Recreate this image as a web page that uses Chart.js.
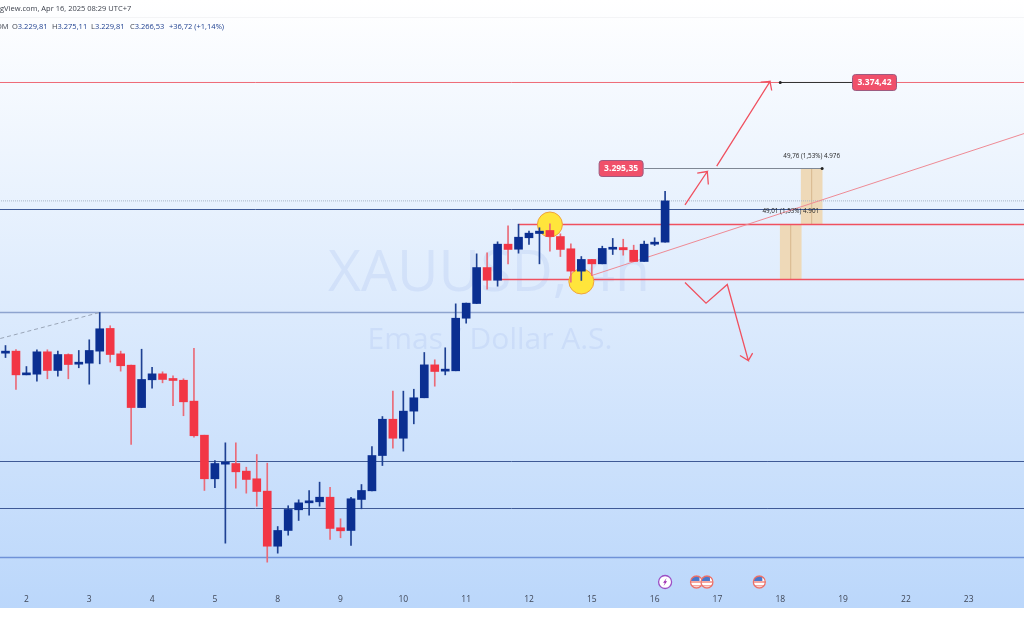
<!DOCTYPE html>
<html>
<head>
<meta charset="utf-8">
<title>XAUUSD 4h</title>
<script src="https://cdn.jsdelivr.net/npm/chart.js@4"></script>
<style>
  html, body { margin: 0; padding: 0; background: #fff; }
  canvas { display: block; }
</style>
</head>
<body>
<canvas id="chart" width="1024" height="631"></canvas>
<script>
// --- CANDLES (4h bars, prices) ---
const opens = [3131.0, 3132.8, 3111.7, 3112.3, 3132.2, 3115.6, 3129.8, 3121.2, 3122.1, 3132.8, 3153.0, 3130.4, 3120.3, 3082.6, 3107.3, 3112.6, 3108.2, 3106.9, 3088.3, 3058.0, 3019.2, 3032.2, 3032.8, 3026.0, 3019.2, 3008.2, 2959.2, 2973.2, 2991.6, 2997.8, 2998.7, 3002.8, 2975.6, 2973.2, 3000.8, 3008.5, 3039.9, 3072.2, 3055.3, 3079.4, 3091.3, 3120.6, 3115.0, 3115.3, 3162.1, 3175.2, 3207.2, 3195.9, 3228.0, 3223.5, 3233.7, 3237.5, 3240.2, 3234.8, 3223.9, 3204.0, 3214.4, 3210.5, 3223.5, 3225.0, 3222.6, 3212.6, 3228.0, 3229.81];
const highs = [3137.8, 3134.3, 3119.1, 3134.0, 3134.0, 3132.8, 3130.4, 3133.4, 3142.9, 3167.2, 3155.4, 3132.8, 3120.3, 3134.5, 3118.5, 3114.4, 3110.9, 3108.2, 3135.2, 3058.0, 3035.5, 3051.2, 3051.2, 3029.5, 3040.8, 3033.1, 2976.7, 2995.2, 3000.5, 3008.8, 3016.2, 3011.7, 2983.6, 3002.8, 3014.1, 3047.9, 3074.6, 3097.2, 3097.2, 3098.9, 3131.6, 3125.1, 3135.8, 3174.9, 3175.5, 3219.4, 3220.3, 3230.1, 3244.4, 3245.8, 3239.6, 3242.6, 3246.1, 3237.2, 3228.3, 3217.0, 3214.4, 3226.2, 3233.1, 3232.4, 3227.1, 3230.7, 3233.7, 3275.11];
const lows = [3127.1, 3098.7, 3111.7, 3106.1, 3108.2, 3110.5, 3108.2, 3118.0, 3103.4, 3121.5, 3123.0, 3115.0, 3049.7, 3082.6, 3099.8, 3104.6, 3084.2, 3075.3, 3056.2, 3008.8, 3011.2, 2961.9, 3010.8, 3006.4, 2994.8, 2945.0, 2953.0, 2969.0, 2982.1, 2986.8, 2994.8, 2965.2, 2966.7, 2959.8, 2992.5, 3008.5, 3031.0, 3046.4, 3043.8, 3068.1, 3091.3, 3101.6, 3111.7, 3115.3, 3157.7, 3175.2, 3187.9, 3190.6, 3210.5, 3220.0, 3227.7, 3210.5, 3221.8, 3217.0, 3194.2, 3195.7, 3200.1, 3210.5, 3218.8, 3218.2, 3212.6, 3212.6, 3226.8, 3229.81];
const closes = [3132.8, 3111.7, 3112.9, 3132.2, 3115.6, 3129.8, 3120.9, 3122.7, 3133.4, 3152.7, 3129.8, 3119.8, 3082.6, 3107.6, 3112.6, 3107.6, 3106.7, 3087.7, 3057.5, 3019.2, 3032.8, 3032.8, 3025.4, 3018.6, 3007.9, 2959.2, 2973.2, 2991.9, 2997.8, 2999.0, 3002.8, 2975.0, 2972.9, 3001.4, 3008.8, 3039.9, 3072.2, 3055.3, 3079.4, 3091.3, 3120.6, 3114.7, 3115.6, 3162.1, 3175.5, 3207.2, 3195.9, 3228.0, 3223.3, 3234.2, 3237.8, 3239.6, 3234.8, 3223.3, 3204.0, 3214.4, 3210.5, 3224.2, 3225.0, 3223.0, 3212.6, 3228.0, 3229.8, 3266.53];

// --- TIME AXIS ---
const dayTickBars = [2, 8, 14, 20, 26, 32, 38, 44, 50, 56, 62, 68, 74, 80, 86, 92];
const dayTickLabels = ['2', '3', '4', '5', '8', '9', '10', '11', '12', '15', '16', '17', '18', '19', '22', '23'];

// --- HORIZONTAL LEVELS ---
const targetLevel = 3371.9;
const lastPrice = 3266.53;
const navyLevels = [3258.86, 3034.58, 2992.75];
const supportLevel = 3167.19;
const floorLevel = 2949.14;
const zoneTop = 3245.51;
const zoneBottom = 3196.56;
const measureTop = 3295.35;

// --- DRAWINGS (bar number / price pairs) ---
const dashedX = [-0.5, 9];
const dashedY = [3144.05, 3167.2];
const trendX = [56, 97.3];
const trendY = [3200.12, 3326.5];
const arrowShortX = [64.9, 67.03, 66.07, 67.03, 67.13];
const arrowShortY = [3263.04, 3292.68, 3291.17, 3292.68, 3281.11];
const arrowLongX = [67.93, 73.02, 72.13, 73.02, 73.18];
const arrowLongY = [3297.4, 3372.78, 3372.16, 3372.78, 3364.77];
const arrowDownX = [64.9, 66.91, 68.94, 70.95, 70.15, 70.95, 71.36];
const arrowDownY = [3193.89, 3175.47, 3192.11, 3124.47, 3128.92, 3124.47, 3130.97];
const circleBars = [52, 55];
const circlePrices = [3245.51, 3194.8];
const measureBars = [75, 77];
const measureLow = [3196.56, 3245.51];
const measureHigh = [3245.51, 3295.35];
const measureTexts = ['49,01 (1,53%) 4.901', '49,76 (1,53%) 4.976'];
const newsBars = [63, 66, 67, 72];
const newsKinds = ['bolt', 'flag', 'flag', 'flag'];

// --- COLORS ---
const BLUE = '#0b2f91';
const RED = '#f23645';
const LINE_RED = '#f0505f';
const TAN = '#eed9b8';

const upDown = (up, down) => closes.map((c, i) => (c >= opens[i] ? up : down));
const toPoints = (xs, ys) => xs.map((x, i) => ({ x, y: ys[i] }));
const flat = (x0, x1, y) => [{ x: x0, y }, { x: x1, y }];
const LAST_X = 97.3;

function lineSet(data, color, width, order, dash) {
  return {
    type: 'line',
    data,
    borderColor: color,
    borderWidth: width,
    borderDash: dash || [],
    pointRadius: 0,
    tension: 0,
    fill: false,
    order
  };
}

const datasets = [
  // candles go on top of everything
  {
    data: opens.map((o, i) => ({ x: i, y: [o, closes[i]] })),
    backgroundColor: upDown(BLUE, RED),
    barThickness: 8,
    minBarLength: 2,
    grouped: false,
    order: 1
  },
  {
    data: lows.map((l, i) => ({ x: i, y: [l, highs[i]] })),
    backgroundColor: upDown('#1e4193', '#ea6b78'),
    barThickness: 1,
    grouped: false,
    order: 2
  },
  // yellow circles
  {
    type: 'line',
    data: toPoints(circleBars, circlePrices),
    showLine: false,
    pointRadius: 12.5,
    pointBackgroundColor: '#ffe53b',
    pointBorderColor: '#f0a23c',
    pointBorderWidth: 1,
    order: 3
  },
  // arrows and trend
  lineSet(toPoints(trendX, trendY), '#ee8a94', 1, 4),
  lineSet(toPoints(arrowShortX, arrowShortY), LINE_RED, 1.3, 4),
  lineSet(toPoints(arrowLongX, arrowLongY), LINE_RED, 1.3, 4),
  lineSet(toPoints(arrowDownX, arrowDownY), LINE_RED, 1.3, 4),
  lineSet(toPoints(dashedX, dashedY), '#9aa6b8', 1, 4, [4, 3]),
  // levels
  lineSet(flat(-1, LAST_X, targetLevel), '#ee6a76', 1, 5),
  lineSet(flat(74, 81, targetLevel), '#333333', 1, 4.5),
  lineSet(flat(61, 78, measureTop), '#7f8794', 1, 4.5),
  lineSet(flat(-1, LAST_X, lastPrice), '#a9b4c4', 1, 5, [1, 1]),
  lineSet(flat(-1, LAST_X, navyLevels[0]), '#3f5a96', 1, 5),
  lineSet(flat(-1, LAST_X, navyLevels[1]), '#3f5a96', 1, 5),
  lineSet(flat(-1, LAST_X, navyLevels[2]), '#3f5a96', 1, 5),
  lineSet(flat(-1, LAST_X, supportLevel), '#8ea4cf', 1.6, 5),
  lineSet(flat(-1, LAST_X, floorLevel), '#6f92d8', 1.4, 5),
  lineSet(flat(49, LAST_X, zoneTop), LINE_RED, 1.6, 4.2),
  lineSet(flat(47, LAST_X, zoneBottom), LINE_RED, 1.6, 4.2),
  // measure handles
  {
    type: 'line',
    data: [{ x: 74, y: targetLevel }, { x: 78, y: measureTop }],
    showLine: false,
    pointRadius: 1.5,
    pointBackgroundColor: '#222222',
    pointBorderWidth: 0,
    order: 4.1
  },
  // measure boxes
  lineSet([{ x: measureBars[0], y: measureLow[0] }, { x: measureBars[0], y: measureHigh[0] }], '#d8b78e', 1, 6),
  lineSet([{ x: measureBars[1], y: measureLow[1] }, { x: measureBars[1], y: measureHigh[1] }], '#d8b78e', 1, 6),
  {
    data: measureBars.map((b, i) => ({ x: b, y: [measureLow[i], measureHigh[i]] })),
    backgroundColor: TAN,
    barThickness: 21,
    grouped: false,
    order: 7
  }
];

// Paints the page background, watermark and header before the axes and marks
const backdrop = {
  id: 'backdrop',
  beforeDraw(chart) {
    const ctx = chart.ctx;
    ctx.save();
    const grad = ctx.createLinearGradient(0, 0, 0, 608);
    grad.addColorStop(0, '#ffffff');
    grad.addColorStop(1, '#bbd7fb');
    ctx.fillStyle = grad;
    ctx.fillRect(0, 0, 1024, 608);

    ctx.strokeStyle = '#f3f4f6';
    ctx.beginPath();
    ctx.moveTo(0, 17.5);
    ctx.lineTo(1024, 17.5);
    ctx.stroke();

    ctx.textAlign = 'center';
    ctx.textBaseline = 'middle';
    ctx.fillStyle = 'rgba(118, 150, 222, 0.13)';
    ctx.font = '57px "Open Sans"';
    ctx.fillText('XAUUSD, 4h', 489, 275);
    ctx.font = '30px "Open Sans"';
    ctx.fillText('Emas / Dollar A.S.', 490, 340);

    ctx.textAlign = 'left';
    ctx.fillStyle = '#3a3f4a';
    ctx.font = '7.5px "Open Sans"';
    ctx.fillText('gView.com, Apr 16, 2025 08:29 UTC+7', 0, 9);

    // the symbol name is cut by the left edge in the original too
    const pairs = [['OM', ''], ['O', '3.229,81'], ['H', '3.275,11'], ['L', '3.229,81'], ['C', '3.266,53'], ['', '+36,72 (+1,14%)']];
    const starts = [-4, 12, 52, 91, 130, 169];
    pairs.forEach(([head, value], i) => {
      ctx.fillStyle = '#3a3f4a';
      ctx.fillText(head, starts[i], 27);
      ctx.fillStyle = '#1d3f8f';
      ctx.fillText(value, starts[i] + ctx.measureText(head).width, 27);
    });
    ctx.restore();
  }
};

// Price tags, measure captions and the news markers above the axis
const overlay = {
  id: 'overlay',
  afterDatasetsDraw(chart) {
    const ctx = chart.ctx;
    const xs = chart.scales.x;
    const ys = chart.scales.y;
    ctx.save();

    const tag = (cx, price, text) => {
      const cy = ys.getPixelForValue(price);
      ctx.fillStyle = '#f0506a';
      ctx.strokeStyle = '#9c5b80';
      ctx.lineWidth = 1;
      ctx.beginPath();
      ctx.roundRect(cx - 22, cy - 8, 44, 16, 3);
      ctx.fill();
      ctx.stroke();
      ctx.fillStyle = '#ffffff';
      ctx.font = 'bold 8.5px "Open Sans"';
      ctx.textAlign = 'center';
      ctx.textBaseline = 'middle';
      ctx.fillText(text, cx, cy);
    };
    tag(xs.getPixelForValue(83), targetLevel, '3.374,42');
    tag(xs.getPixelForValue(58.8), measureTop, '3.295,35');

    ctx.fillStyle = '#222222';
    ctx.font = '6.3px "Open Sans"';
    ctx.textAlign = 'center';
    ctx.fillText(measureTexts[0], xs.getPixelForValue(measureBars[0]), ys.getPixelForValue(measureLow[1] + 11.5));
    ctx.fillText(measureTexts[1], xs.getPixelForValue(measureBars[1]), ys.getPixelForValue(measureHigh[1] + 10.5));

    newsBars.forEach((bar, i) => {
      const cx = xs.getPixelForValue(bar);
      const cy = 582;
      ctx.beginPath();
      ctx.arc(cx, cy, 6.5, 0, Math.PI * 2);
      ctx.fillStyle = '#ffffff';
      ctx.fill();
      ctx.lineWidth = 1.3;
      if (newsKinds[i] === 'bolt') {
        ctx.strokeStyle = '#9c4fc4';
        ctx.stroke();
        ctx.fillStyle = '#9c27b0';
        ctx.beginPath();
        ctx.moveTo(cx + 1.5, cy - 4);
        ctx.lineTo(cx - 2, cy + 0.8);
        ctx.lineTo(cx - 0.2, cy + 0.8);
        ctx.lineTo(cx - 1.5, cy + 4);
        ctx.lineTo(cx + 2, cy - 0.8);
        ctx.lineTo(cx + 0.2, cy - 0.8);
        ctx.closePath();
        ctx.fill();
      } else {
        ctx.save();
        ctx.beginPath();
        ctx.arc(cx, cy, 6, 0, Math.PI * 2);
        ctx.clip();
        ctx.fillStyle = '#f5a7a0';
        ctx.fillRect(cx - 7, cy - 1, 14, 2);
        ctx.fillRect(cx - 7, cy + 3, 14, 1.5);
        ctx.fillStyle = '#4a78cc';
        ctx.fillRect(cx - 6, cy - 6, 9, 5);
        ctx.restore();
        ctx.strokeStyle = '#e8706a';
        ctx.stroke();
      }
    });
    ctx.restore();
  }
};

new Chart(document.getElementById('chart'), {
  type: 'bar',
  data: { datasets },
  options: {
    responsive: false,
    animation: false,
    layout: { autoPadding: false, padding: { left: 0, right: 0, top: 0, bottom: 23 } },
    plugins: { legend: { display: false }, tooltip: { enabled: false } },
    scales: {
      x: {
        type: 'linear',
        offset: false,
        min: -0.525,
        max: 97.28,
        grid: { display: false, drawTicks: false },
        border: { display: false },
        afterBuildTicks: (axis) => {
          axis.ticks = dayTickBars.map((value) => ({ value }));
        },
        afterFit: (axis) => {
          axis.height = 20;
        },
        ticks: {
          autoSkip: false,
          maxRotation: 0,
          padding: 6,
          color: '#3f4656',
          font: { family: 'Open Sans', size: 8.5 },
          callback: (value) => dayTickLabels[dayTickBars.indexOf(value)]
        }
      },
      y: {
        display: false,
        // half a pixel off the round prices so the thin levels stay crisp
        min: 2922.0,
        max: 3445.315
      }
    }
  },
  plugins: [backdrop, overlay]
});
</script>
</body>
</html>
